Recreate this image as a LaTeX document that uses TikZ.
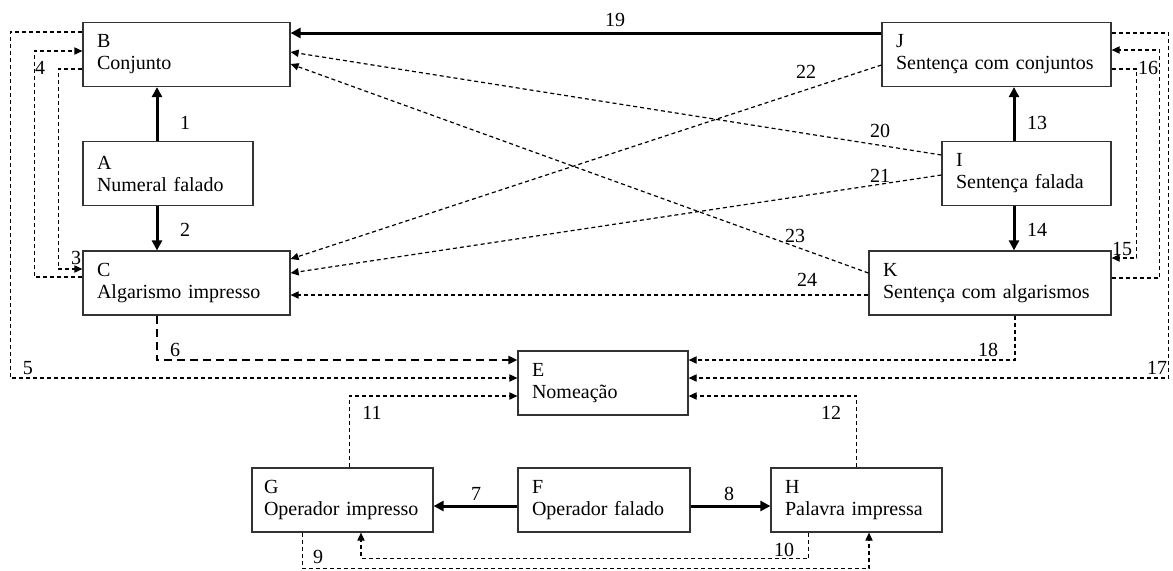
\documentclass[tikz,border=0pt]{standalone}
\usepackage{fontspec}
\setmainfont{Liberation Serif}
\usetikzlibrary{arrows.meta,calc}
\definecolor{boxgray}{HTML}{333333}
\tikzset{
  box/.style={draw=boxgray, line width=0.6pt, align=left, text width=#1, minimum height=32pt,
              inner xsep=7pt, inner ysep=0pt, font=\fontsize{10}{11}\selectfont},
  arr/.style={-{Triangle[length=5pt,width=5pt]}, line width=1.5pt},
  darr/.style={-{Triangle[length=4pt,width=3.6pt]}, line width=0.6pt, dash pattern=on 2pt off 1.5pt},
  bigdarr/.style={-{Triangle[length=4.5pt,width=4pt]}, line width=1pt, dash pattern=on 4pt off 2.5pt},
  num/.style={font=\fontsize{10}{11}\selectfont, inner sep=0pt},
}
\begin{document}
\begin{tikzpicture}[x=0.5pt, y=-0.5pt]
    \useasboundingbox (0,0) rectangle (1173,570);
    % boxes
    \node[box=89.5pt]  (B) at (186.5,54.5) {B\\Conjunto};
    \node[box=71pt]    (A) at (168,173.5) {A\\Numeral falado};
    \node[box=89.5pt]  (C) at (186.5,283) {C\\Algarismo impresso};
    \node[box=100.5pt] (J) at (996.5,54.5) {J\\Senten\c{c}a com conjuntos};
    \node[box=70.5pt]  (I) at (1026.5,173.5) {I\\Senten\c{c}a falada};
    \node[box=107pt]   (K) at (990,283) {K\\Senten\c{c}a com algarismos};
    \node[box=71pt]    (E) at (603,383) {E\\Nomea\c{c}\~ao};
    \node[box=78.5pt, inner xsep=6pt] (G) at (342.5,500) {G\\Operador impresso};
    \node[box=72pt]    (F) at (604,500) {F\\Operador falado};
    \node[box=71.5pt]  (H) at (856.5,500) {H\\Palavra impressa};
    % solid arrows
    \draw[arr] ($(A.north)+(-11,0)$) -- ($(B.south)+(-29.5,0)$);
    \draw[arr] ($(A.south)+(-11,0)$) -- ($(C.north)+(-29.5,0)$);
    \draw[arr] ($(I.north)+(-12.5,0)$) -- ($(J.south)+(17.5,0)$);
    \draw[arr] ($(I.south)+(-12.5,0)$) -- ($(K.north)+(24,0)$);
    \draw[arr] (F.west |- 0,506) -- (G.east |- 0,506);
    \draw[arr] (F.east |- 0,506) -- (H.west |- 0,506);
    \draw[arr] (J.west |- 0,33) -- (B.east |- 0,33);
    % dashed loops on the left
    \draw[darr] (B.west |- 0,69) -- ++(-24,0) |- (C.west |- 0,269);
    \draw[darr] (C.west |- 0,277) -- ++(-48,0) |- (B.west |- 0,51);
    \draw[darr] (B.west |- 0,32) -- ++(-72,0) |- (E.west |- 0,378);
    \draw[bigdarr] ($(C.south)+(-30,0)$) |- (E.west |- 0,360);
    % dashed loops on the right
    \draw[darr] (J.east |- 0,69) -- ++(25,0) |- (K.east |- 0,258);
    \draw[darr] (K.east |- 0,278) -- ++(48,0) |- (J.east |- 0,50);
    \draw[darr] (J.east |- 0,33) -- ++(57,0) |- (E.east |- 0,378);
    \draw[darr] ($(K.south)+(25,0)$) |- (E.east |- 0,360);
    % lower part
    \draw[darr] ($(G.north)+(7,0)$) |- (E.west |- 0,396);
    \draw[darr] (H.north) |- (E.east |- 0,396);
    \draw[darr] ($(G.south)+(-40,0)$) -- ++(0,36) -| ($(H.south)+(12.5,0)$);
    \draw[darr] ($(H.south)+(-48,0)$) -- ++(0,26) -| ($(G.south)+(18.5,0)$);
    % crossing links
    \draw[darr] (I.west |- 0,155) -- (B.east |- 0,52);
    \draw[darr] (I.west |- 0,175) -- (C.east |- 0,273);
    \draw[darr] (J.west |- 0,65) -- (C.east |- 0,259);
    \draw[darr] (K.west |- 0,273) -- (B.east |- 0,64);
    \draw[darr] (K.west |- 0,295) -- (C.east |- 0,295);
    % numbers
    \node[num] (n1) at (185,123) {1};   \node[num] (n2) at (185,230) {2};
    \node[num] (n3) at (76,258) {3};    \node[num] (n4) at (40,68) {4};
    \node[num] (n5) at (28,368) {5};    \node[num] (n6) at (175,350) {6};
    \node[num] (n7) at (476,494) {7};   \node[num] (n8) at (729,494) {8};
    \node[num] (n9) at (318,557) {9};   \node[num] (n10) at (784,550) {10};
    \node[num] (n11) at (372,413) {11}; \node[num] (n12) at (831,413) {12};
    \node[num] (n13) at (1037,123) {13}; \node[num] (n14) at (1037,230) {14};
    \node[num] (n15) at (1122,249) {15}; \node[num] (n16) at (1148,68) {16};
    \node[num] (n17) at (1157,368) {17}; \node[num] (n18) at (988,350) {18};
    \node[num] (n19) at (615,20) {19};  \node[num] (n20) at (880,131) {20};
    \node[num] (n21) at (880,176) {21}; \node[num] (n22) at (806,72) {22};
    \node[num] (n23) at (795,236) {23}; \node[num] (n24) at (807,280) {24};
\end{tikzpicture}
\end{document}
